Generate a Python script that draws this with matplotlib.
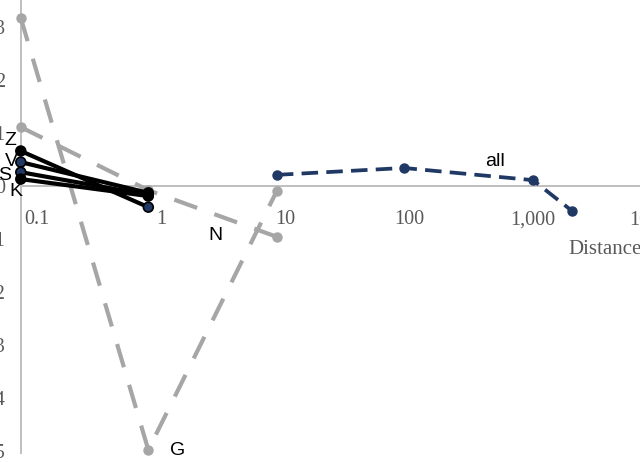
import matplotlib
matplotlib.use("Agg")
import matplotlib.pyplot as plt
from matplotlib.ticker import NullLocator

# ---- data ----
x_short = [0.074, 0.79]
z_vals = [0.66, -0.40]
v_vals = [0.45, -0.13]
s_vals = [0.26, -0.17]
k_vals = [0.13, -0.19]

x_gn = [0.074, 0.79, 8.6]
g_vals = [3.17, -4.98, -0.09]
n_vals = [1.11, -0.08, -0.96]

x_all = [8.6, 91, 1000, 2063]
all_vals = [0.21, 0.34, 0.11, -0.47]

xtick_vals = [0.1, 1, 10, 100, 1000, 10000]
xtick_labels = ["0.1", "1", "10", "100", "1,000", "10,000"]
ytick_vals = [-5, -4, -3, -2, -1, 0, 1, 2, 3]
ytick_labels = ["-5", "-4", "-3", "-2", "-1", "0", "1", "2", "3"]

NAVY = "#1f3864"
GRAY = "#a6a6a6"
AXC = "#bfbfbf"
TXT = "#595959"
SERIF = ["Liberation Serif", "DejaVu Serif"]
SANS = ["Liberation Sans", "DejaVu Sans"]

# the chart is a crop of a wider plot: the axes runs past the right edge
XMIN, XMAX = 0.0503, 20000.0
right_px = 533 + 124 * 1.30103  # pixel of XMAX
fig = plt.figure(figsize=(6.4, 4.62), dpi=100)
ax = fig.add_axes([0, 0, right_px / 640, 1])
ax.set_xscale("log")

ax.set_xticks(xtick_vals)
ax.set_xticklabels(xtick_labels)
ax.xaxis.set_minor_locator(NullLocator())
ax.set_yticks(ytick_vals)
ax.set_yticklabels(ytick_labels)

ax.set_xlim(XMIN, XMAX)
ax.set_ylim(-5.208, 3.509)

for sp in ("top", "right"):
    ax.spines[sp].set_visible(False)
ax.spines["left"].set_position(("data", 0.074))
ax.spines["bottom"].set_position(("data", 0))
ax.spines["left"].set_bounds(-5.04, 3.509)
ax.spines["bottom"].set_bounds(0.074, XMAX)
for sp in ("left", "bottom"):
    ax.spines[sp].set_color(AXC)
    ax.spines[sp].set_linewidth(1.4)
    ax.spines[sp].set_zorder(0)

ax.tick_params(axis="x", length=0, pad=17.5, labelsize=14.5, labelcolor=TXT)
ax.tick_params(axis="y", length=0, pad=11.5, labelsize=14.5, labelcolor=TXT)
for lab in ax.get_xticklabels() + ax.get_yticklabels():
    lab.set_fontfamily(SERIF)

ax.set_xlabel("Distance", fontsize=15, color=TXT, family=SERIF, ha="left", va="center")
ax.xaxis.set_label_coords(568 / right_px, 1 - 250 / 462)

# gray dashed series
for vals in (g_vals, n_vals):
    ax.plot(x_gn, vals, color=GRAY, lw=3.0, dashes=(5.8, 4.4), marker="o",
            markersize=6.5, markerfacecolor=GRAY, markeredgecolor=GRAY,
            clip_on=False, zorder=2)

# navy dashed 'all'
ax.plot(x_all, all_vals, color=NAVY, lw=2.7, dashes=(4.4, 2.2), marker="o",
        markersize=6.5, markerfacecolor=NAVY, markeredgecolor=NAVY,
        clip_on=False, zorder=3)

# black solid series
short_series = [(z_vals, ["black", NAVY]), (v_vals, [NAVY, "black"]),
                (s_vals, [NAVY, "black"]), (k_vals, ["black", "black"])]
for vals, mcols in short_series:
    ax.plot(x_short, vals, color="black", lw=3.0, solid_capstyle="round",
            clip_on=False, zorder=4)
for vals, mcols in short_series:
    ax.scatter(x_short, vals, s=50, c=mcols, edgecolors="black", linewidths=1.2,
               clip_on=False, zorder=5)

def lab(text, x, y, dx, dy):
    ax.annotate(text, (x, y), xytext=(dx * 0.72, dy * 0.72), textcoords="offset points",
                ha="center", va="center", fontsize=14, family=SANS, color="black",
                annotation_clip=False, zorder=6)

lab("Z", x_short[0], z_vals[0], -10, 10)
lab("V", x_short[0], v_vals[0], -9, 1)
lab("S", x_short[0], s_vals[0], -16, -3)
lab("K", x_short[0], k_vals[0], -5, -12)
lab("N", x_gn[2], n_vals[2], -61, 1)
lab("G", x_gn[1], g_vals[1], 29, -1)
lab("all", x_all[2], all_vals[2], -38, 19)

fig.savefig("out.png", dpi=100)
